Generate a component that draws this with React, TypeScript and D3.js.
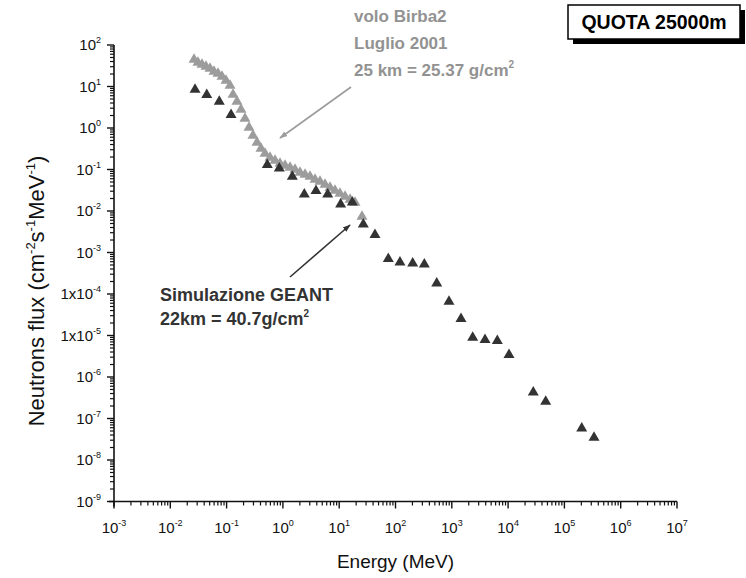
import React from 'react';
import * as d3 from 'd3';

// ---- Data ----
// Measurement: volo Birba2, Luglio 2001 (gray triangles)
const birbaEnergy = [
  0.0264, 0.031, 0.0366, 0.043, 0.0507, 0.0597, 0.0703, 0.0828, 0.0975, 0.115,
  0.13, 0.153, 0.18, 0.212, 0.25, 0.294, 0.347, 0.408, 0.481, 0.59,
  0.725, 0.888, 1.09, 1.34, 1.64, 2.01, 2.47, 3.03, 3.72, 4.56,
  5.59, 6.87, 8.42, 10.3, 12.7, 15.6, 19.1, 25.4,
];
const birbaFlux = [
  48.6, 41.1, 36.8, 33.0, 29.5, 25.0, 22.4, 18.9, 15.2, 11.5,
  6.97, 4.73, 3.03, 1.84, 1.12, 0.716, 0.486, 0.348, 0.264, 0.211,
  0.179, 0.152, 0.136, 0.121, 0.109, 0.092, 0.0824, 0.0737, 0.0624, 0.0558,
  0.0473, 0.04, 0.0339, 0.0287, 0.0243, 0.0206, 0.0174, 0.008,
];

// Simulazione GEANT (dark triangles)
const geantEnergy = [
  0.0275, 0.0444, 0.0741, 0.12, 0.528, 0.863, 1.47, 2.4, 3.87, 6.25,
  10.6, 17.1, 26.8, 43.2, 74.5, 120, 202, 325, 540, 891,
  1456, 2350, 3890, 6430, 10380, 28000, 46500, 203000, 336000,
];
const geantFlux = [
  9.2, 6.86, 4.73, 2.26, 0.141, 0.117, 0.0737, 0.0276, 0.0333, 0.0276,
  0.0158, 0.0177, 0.00522, 0.0029, 7.66e-4, 6.34e-4, 6.0e-4, 5.68e-4, 1.98e-4, 7.17e-5,
  2.75e-5, 9.7e-6, 8.57e-6, 8.1e-6, 3.72e-6, 4.68e-7, 2.79e-7, 6.34e-8, 3.79e-8,
];

const xTickExponents = [-3, -2, -1, 0, 1, 2, 3, 4, 5, 6, 7];
const yTickExponents = [2, 1, 0, -1, -2, -3, -4, -5, -6, -7, -8, -9];
const yTickPrefixes = ['10', '10', '10', '10', '10', '10', '1x10', '1x10', '10', '10', '10', '10'];

const xTitle = 'Energy (MeV)';
const birbaLabel = ['volo Birba2', 'Luglio 2001'];
const geantLabel = 'Simulazione GEANT';
const boxLabel = 'QUOTA 25000m';

const FONT = "'Liberation Sans', Arial, Helvetica, sans-serif";
const DARK = '#333333';
const GRAY = '#9c9c9c';
const GRAY_TEXT = '#929292';

export default function App() {
  const W = 746;
  const H = 578;
  const x = d3.scaleLog().domain([1e-3, 1e7]).range([114, 677]);
  const y = d3.scaleLog().domain([1e-9, 1e2]).range([501.5, 45]);
  const [x0, x1] = x.range();
  const [yb, yt] = y.range();

  const minorX: number[] = [];
  for (let e = -3; e < 7; e++) for (let m = 2; m <= 9; m++) minorX.push(m * Math.pow(10, e));
  const minorY: number[] = [];
  for (let e = -9; e < 2; e++) for (let m = 2; m <= 9; m++) minorY.push(m * Math.pow(10, e));

  const tri = (w: number, h: number) => `M0,${-h / 2}L${w / 2},${h / 2}L${-w / 2},${h / 2}Z`;
  const triPath = tri(11, 9.5);

  return (
    <svg
      width={W}
      height={H}
      viewBox={`0 0 ${W} ${H}`}
      style={{ position: 'absolute', left: 0, top: 0, background: '#fff' }}
      fontFamily={FONT}
    >
      <defs>
        <marker id="arrGray" viewBox="0 0 10 10" refX="9" refY="5" markerWidth="8" markerHeight="8" orient="auto" markerUnits="userSpaceOnUse">
          <path d="M0,1.5L10,5L0,8.5Z" fill={GRAY} />
        </marker>
        <marker id="arrDark" viewBox="0 0 10 10" refX="9" refY="5" markerWidth="8" markerHeight="8" orient="auto" markerUnits="userSpaceOnUse">
          <path d="M0,1.5L10,5L0,8.5Z" fill={DARK} />
        </marker>
      </defs>
      <rect x={0} y={0} width={W} height={H} fill="#fff" />

      {/* axes */}
      <g stroke="#111" fill="none">
        <line x1={x0 - 5} x2={x1} y1={yb} y2={yb} strokeWidth={1.6} />
        <line x1={x0} x2={x0} y1={yt} y2={yb + 5} strokeWidth={1.6} />
        {xTickExponents.map((e) => (
          <line key={'xM' + e} x1={x(Math.pow(10, e))} x2={x(Math.pow(10, e))} y1={yb} y2={yb + 7} strokeWidth={1.4} />
        ))}
        {minorX.map((v, i) => (
          <line key={'xm' + i} x1={x(v)} x2={x(v)} y1={yb} y2={yb + 4} strokeWidth={1.2} />
        ))}
        {yTickExponents.map((e) => (
          <line key={'yM' + e} x1={x0 - 7} x2={x0} y1={y(Math.pow(10, e))} y2={y(Math.pow(10, e))} strokeWidth={1.4} />
        ))}
        {minorY.map((v, i) => (
          <line key={'ym' + i} x1={x0 - 4} x2={x0} y1={y(v)} y2={y(v)} strokeWidth={1.2} />
        ))}
      </g>

      {/* x tick labels */}
      <g fill="#111" fontSize={15}>
        {xTickExponents.map((e) => (
          <text key={'xl' + e} x={x(Math.pow(10, e))} y={yb + 31} textAnchor="middle">
            10<tspan fontSize={9} dy={-7}>{e}</tspan>
          </text>
        ))}
      </g>
      {/* y tick labels */}
      <g fill="#111" fontSize={15}>
        {yTickExponents.map((e, i) => (
          <text key={'yl' + e} x={x0 - 13} y={y(Math.pow(10, e)) + 5} textAnchor="end">
            {yTickPrefixes[i]}<tspan fontSize={9} dy={-7}>{e}</tspan>
          </text>
        ))}
      </g>

      {/* axis titles */}
      <text x={(x0 + x1) / 2} y={568} textAnchor="middle" fontSize={19} fill="#111">{xTitle}</text>
      <text transform="translate(44,291) rotate(-90)" textAnchor="middle" fontSize={22} fill="#111">
        Neutrons flux (cm<tspan fontSize={13} dy={-9}>-2</tspan><tspan dy={9}>s</tspan>
        <tspan fontSize={13} dy={-9}>-1</tspan><tspan dy={9}>MeV</tspan>
        <tspan fontSize={13} dy={-9}>-1</tspan><tspan dy={9}>)</tspan>
      </text>

      {/* data */}
      <g fill={GRAY}>
        {birbaEnergy.map((e, i) => (
          <path key={'b' + i} d={triPath} transform={`translate(${x(e)},${y(birbaFlux[i])})`} />
        ))}
      </g>
      <g fill={DARK}>
        {geantEnergy.map((e, i) => (
          <path key={'g' + i} d={triPath} transform={`translate(${x(e)},${y(geantFlux[i])})`} />
        ))}
      </g>

      {/* gray annotation */}
      <g fill={GRAY_TEXT} fontSize={17} fontWeight="bold">
        <text x={354} y={22}>{birbaLabel[0]}</text>
        <text x={354} y={49}>{birbaLabel[1]}</text>
        <text x={354} y={76}>25 km = 25.37 g/cm<tspan fontSize={10} dy={-8}>2</tspan></text>
      </g>
      <line x1={351} y1={87} x2={280} y2={138} stroke={GRAY} strokeWidth={1.6} markerEnd="url(#arrGray)" />

      {/* dark annotation */}
      <g fill={DARK} fontSize={18} fontWeight="bold">
        <text x={160} y={301}>{geantLabel}</text>
        <text x={160} y={325}>22km = 40.7g/cm<tspan fontSize={10} dy={-8}>2</tspan></text>
      </g>
      <line x1={290} y1={277} x2={350} y2={225} stroke={DARK} strokeWidth={1.6} markerEnd="url(#arrDark)" />

      {/* box */}
      <rect x={573} y={10} width={172} height={34} fill="#000" />
      <rect x={568} y={5} width={172} height={34} fill="#fff" stroke="#000" strokeWidth={1.5} />
      <text x={654} y={29} textAnchor="middle" fontSize={19.5} fontWeight="bold" fill="#000">{boxLabel}</text>
    </svg>
  );
}
